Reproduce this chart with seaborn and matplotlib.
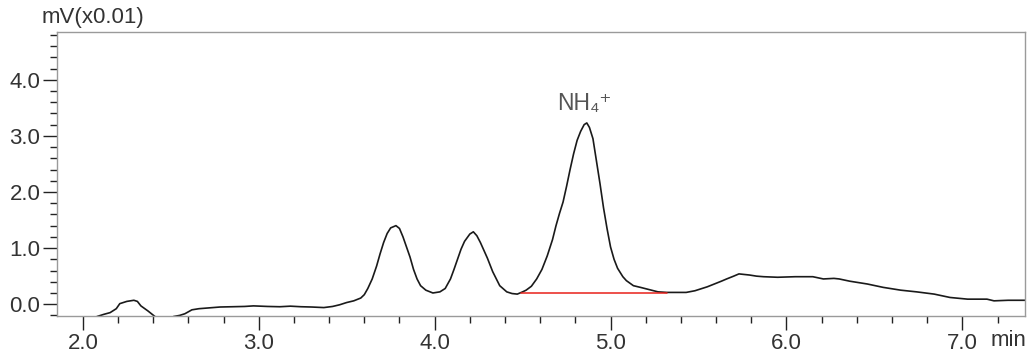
import numpy as np
import pandas as pd
import matplotlib
matplotlib.use("Agg")
import matplotlib.pyplot as plt
import seaborn as sns
from matplotlib.ticker import MultipleLocator

# chromatogram trace (time in min, signal in mV x0.01)
seg1_time = [2.08, 2.12, 2.155, 2.19, 2.21, 2.25, 2.29, 2.31, 2.33, 2.37, 2.41]
seg1_mv = [-0.22, -0.18, -0.15, -0.08, 0.01, 0.05, 0.07, 0.05, -0.03, -0.12, -0.22]

seg2_time = [2.515, 2.55, 2.58, 2.62, 2.66, 2.70, 2.78, 2.85, 2.92, 2.97, 3.05, 3.12,
             3.18, 3.24, 3.30, 3.37, 3.42, 3.46, 3.50, 3.54, 3.58, 3.60, 3.62, 3.645,
             3.67, 3.69, 3.71, 3.73, 3.75, 3.78, 3.80, 3.82, 3.84, 3.86, 3.88, 3.90,
             3.92, 3.95, 3.99, 4.03, 4.06, 4.09, 4.11, 4.13, 4.15, 4.17, 4.20, 4.22,
             4.24, 4.26, 4.28, 4.30, 4.33, 4.37, 4.41, 4.44, 4.47, 4.50, 4.52, 4.55,
             4.58, 4.61, 4.64, 4.67, 4.69, 4.71, 4.73, 4.75, 4.77, 4.79, 4.81, 4.83,
             4.85, 4.865, 4.88, 4.90, 4.92, 4.94, 4.96, 4.98, 5.00, 5.02, 5.04, 5.07,
             5.09, 5.13, 5.17, 5.22, 5.27, 5.32, 5.38, 5.43, 5.48, 5.51, 5.55, 5.59,
             5.63, 5.66, 5.70, 5.73, 5.76, 5.79, 5.83, 5.87, 5.95, 6.05, 6.15, 6.21,
             6.27, 6.30, 6.36, 6.42, 6.46, 6.55, 6.65, 6.74, 6.84, 6.93, 7.03, 7.14,
             7.18, 7.26, 7.36]
seg2_mv = [-0.22, -0.20, -0.17, -0.10, -0.08, -0.07, -0.05, -0.045, -0.04, -0.03, -0.04, -0.045,
           -0.035, -0.045, -0.05, -0.06, -0.04, -0.01, 0.03, 0.06, 0.11, 0.17, 0.28, 0.45,
           0.68, 0.90, 1.10, 1.26, 1.36, 1.40, 1.35, 1.20, 1.02, 0.84, 0.62, 0.45,
           0.33, 0.25, 0.20, 0.22, 0.28, 0.45, 0.62, 0.80, 0.98, 1.12, 1.25, 1.29,
           1.22, 1.10, 0.96, 0.82, 0.58, 0.33, 0.22, 0.19, 0.18, 0.22, 0.25, 0.32,
           0.45, 0.62, 0.86, 1.15, 1.40, 1.62, 1.82, 2.10, 2.40, 2.68, 2.92, 3.08,
           3.20, 3.23, 3.15, 2.95, 2.55, 2.15, 1.72, 1.35, 1.02, 0.80, 0.64, 0.49,
           0.42, 0.33, 0.30, 0.26, 0.22, 0.21, 0.21, 0.21, 0.24, 0.27, 0.31, 0.36,
           0.41, 0.45, 0.50, 0.54, 0.53, 0.52, 0.50, 0.49, 0.48, 0.49, 0.49, 0.45,
           0.46, 0.45, 0.41, 0.38, 0.36, 0.30, 0.25, 0.22, 0.18, 0.12, 0.09, 0.09,
           0.06, 0.07, 0.07]

# integration baseline under the NH4+ peak
base_time = [4.49, 5.32]
base_mv = [0.20, 0.20]

peak_label = "NH\u2084\u207a"
peak_pos = (4.85, 3.37)

df = pd.DataFrame({
    "time": seg1_time + seg2_time,
    "mv": seg1_mv + seg2_mv,
    "seg": [1] * len(seg1_time) + [2] * len(seg2_time),
})
base = pd.DataFrame({"time": base_time, "mv": base_mv})

sns.set_style("white")
plt.rcParams["font.family"] = ["Liberation Sans", "DejaVu Sans"]

fig = plt.figure(figsize=(10.27, 3.52), dpi=100)
ax = fig.add_axes([0.0555, 0.1023, 0.9425, 0.8067])

sns.lineplot(data=df, x="time", y="mv", units="seg", estimator=None,
             color="#1a1a1a", linewidth=1.2, ax=ax)
sns.lineplot(data=base, x="time", y="mv", color="#e8201a", linewidth=1.1, ax=ax)

ax.set_xlim(1.853, 7.356)
ax.set_ylim(-0.21, 4.85)
ax.xaxis.set_minor_locator(MultipleLocator(0.2))
ax.yaxis.set_minor_locator(MultipleLocator(0.2))
ax.set_xticks([2, 3, 4, 5, 6, 7])
ax.set_yticks([0, 1, 2, 3, 4])
ax.xaxis.set_major_formatter(matplotlib.ticker.FormatStrFormatter("%.1f"))
ax.yaxis.set_major_formatter(matplotlib.ticker.FormatStrFormatter("%.1f"))

ax.tick_params(axis="both", which="major", length=10, width=1, color="#222",
               labelsize=16, labelcolor="#333", direction="out", pad=2)
ax.tick_params(axis="both", which="minor", length=5, width=1, color="#222",
               direction="out")
ax.tick_params(bottom=True, left=True, which="both")

for sp in ax.spines.values():
    sp.set_color("#9a9a9a")
    sp.set_linewidth(1.0)

ax.set_xlabel("")
ax.set_ylabel("")

ax.text(peak_pos[0], peak_pos[1], peak_label, ha="center", va="bottom",
        fontsize=16.5, color="#555")
fig.text(42 / 1027, 1 - 18 / 352, "mV(x0.01)", ha="left", va="center",
         fontsize=16, color="#333")
fig.text(1026 / 1027, 1 - 340 / 352, "min", ha="right", va="center",
         fontsize=16, color="#333")

fig.savefig("out.png", dpi=100)
